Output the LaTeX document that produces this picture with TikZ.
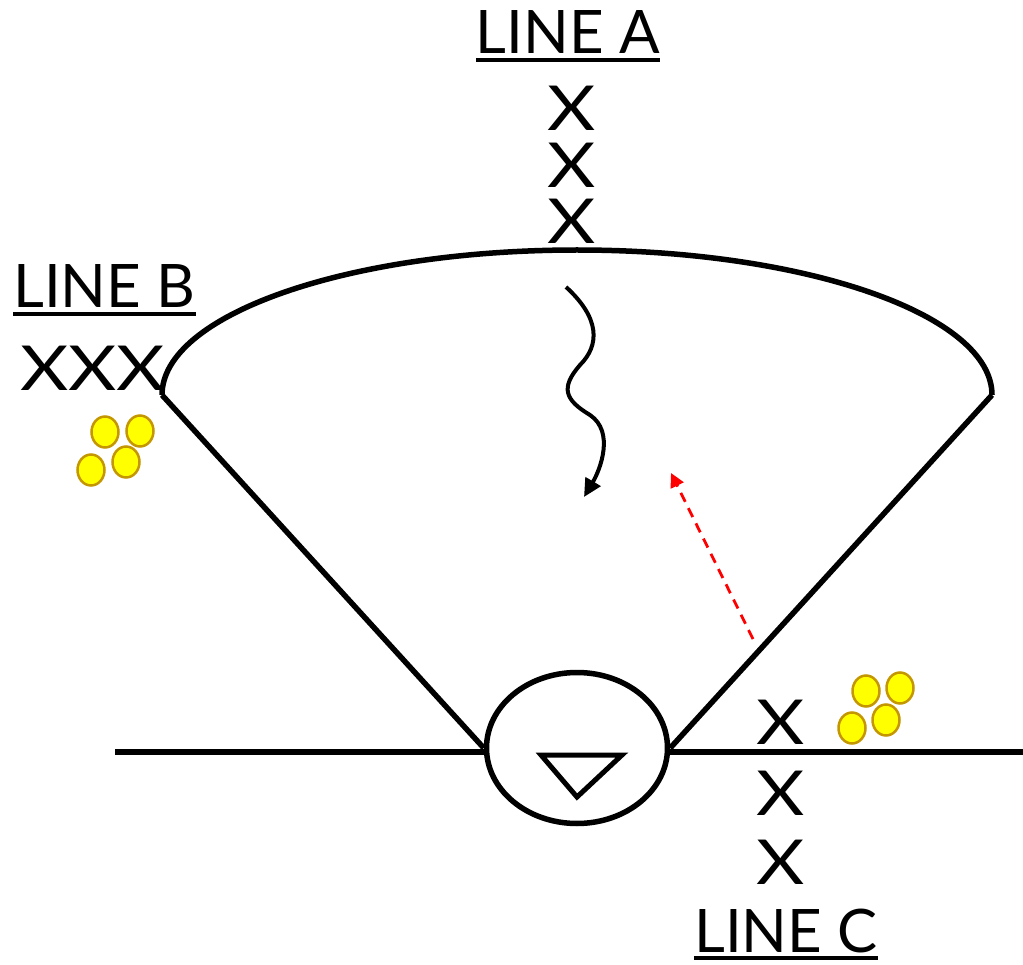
\documentclass[tikz,border=0pt]{standalone}
\usepackage{fontspec}
\setmainfont{Lato}
\usetikzlibrary{shapes.geometric,arrows.meta}
\definecolor{coinedge}{RGB}{196,150,0}
\definecolor{coinfill}{RGB}{255,255,0}
\definecolor{redarrow}{RGB}{255,0,0}
\tikzset{
  thick line/.style={line width=5.5pt, black},
  label text/.style={font=\fontsize{60}{60}\selectfont, inner sep=0pt},
  xmark/.style={font=\fontsize{62}{62}\selectfont, inner sep=0pt},
  uline/.style={line width=3.5pt},
  coin/.style={ellipse, draw=coinedge, fill=coinfill, line width=2.5pt, minimum width=27pt, minimum height=31pt, inner sep=0pt},
}
\newcommand{\wideX}[1]{\scalebox{1.2}[1]{#1}}
\begin{document}
\begin{tikzpicture}[x=1pt,y=-1pt]
\useasboundingbox (0,0) rectangle (1023,965);
% meter circle
\node[ellipse, thick line, draw, minimum width=181pt, minimum height=151pt, inner sep=0pt] (meter) at (577,748) {};
\coordinate (tri1) at (541,755);
\coordinate (tri2) at (622,755);
\coordinate (tri3) at (577,797);
\draw[line width=5pt, line join=miter] (tri1) -- (tri2) -- (tri3) -- cycle;
% ground line
\coordinate (gl) at (115,752);
\coordinate (gr) at (1023,752);
\draw[thick line] (gl) -- (gl -| meter.west);
\draw[thick line] (gr -| meter.east) -- (gr);
% fan
\coordinate (arcL) at (162,395);
\coordinate (arcR) at (992,395);
\draw[thick line] (arcL) arc[start angle=180, end angle=360, x radius=415, y radius=145];
\draw[thick line] (arcL) -- (meter.west);
\draw[thick line] (arcR) -- (meter.east);
% wavy arrow
\coordinate (w0) at (566,287);
\coordinate (w4) at (584,497);
\draw[line width=4pt, -{Triangle[length=18pt,width=17pt]}] (w0) .. controls (600,318) and (600,345) .. (580,365) .. controls (560,388) and (565,400) .. (590,415) .. controls (615,432) and (600,470) .. (w4);
% red dashed arrow
\coordinate (r0) at (753,639);
\coordinate (r1) at (671,473);
\draw[redarrow, line width=2.8pt, dash pattern=on 10pt off 7pt, -{Triangle[length=14pt,width=14pt]}] (r0) -- (r1);
% labels
\node[label text, anchor=base] (lineA) at (568,54) {LINE A};
\draw[uline] ([yshift=-6pt]lineA.base west) -- ([yshift=-6pt]lineA.base east);
\node[xmark] (xa1) at (572,108) {\wideX{X}};
\node[xmark] (xa2) at (572,165) {\wideX{X}};
\node[xmark] (xa3) at (572,221) {\wideX{X}};
\node[label text, anchor=base west] (lineB) at (13,308) {LINE B};
\draw[uline] ([yshift=-6pt]lineB.base west) -- ([yshift=-6pt]lineB.base east);
\node[xmark, anchor=base west] (xb) at (20,391) {\wideX{XXX}};
\node[label text, anchor=base] (lineC) at (786,952) {LINE C};
\draw[uline] ([yshift=-6pt]lineC.base west) -- ([yshift=-6pt]lineC.base east);
\node[xmark] (xc1) at (781,722) {\wideX{X}};
\node[xmark] (xc2) at (781,793) {\wideX{X}};
\node[xmark] (xc3) at (781,862) {\wideX{X}};
% coins
\node[coin] (c1) at (105,432) {};
\node[coin] (c2) at (140,431) {};
\node[coin] (c3) at (91,470) {};
\node[coin] (c4) at (126,462) {};
\node[coin] (c5) at (866,691) {};
\node[coin] (c6) at (900,688) {};
\node[coin] (c7) at (852,728) {};
\node[coin] (c8) at (886,720) {};
\end{tikzpicture}
\end{document}
